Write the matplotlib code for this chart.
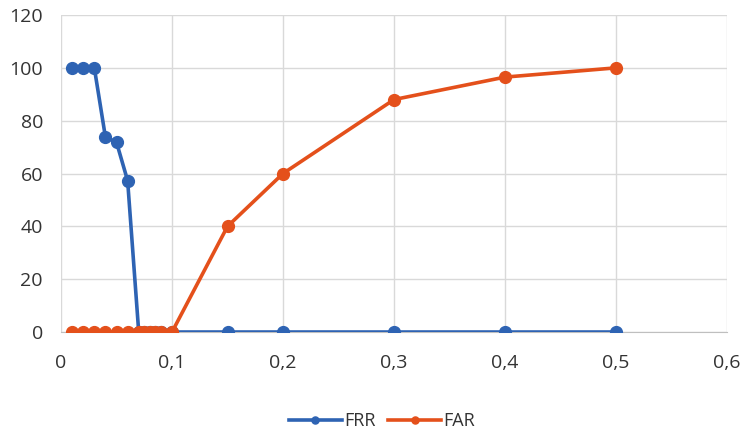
import matplotlib.pyplot as plt
from matplotlib.ticker import FuncFormatter

# threshold values and rates (%)
thresholds = [0.01, 0.02, 0.03, 0.04, 0.05, 0.06, 0.07, 0.075, 0.08, 0.085,
              0.09, 0.1, 0.15, 0.2, 0.3, 0.4, 0.5]
frr = [100, 100, 100, 73.8, 71.8, 57.3, 0, 0, 0, 0, 0, 0, 0, 0, 0, 0, 0]
far = [0, 0, 0, 0, 0, 0, 0, 0, 0, 0, 0, 0, 40, 60, 88, 96.5, 100]

x_ticks = [0, 0.1, 0.2, 0.3, 0.4, 0.5, 0.6]
y_ticks = [0, 20, 40, 60, 80, 100, 120]

blue = "#2E63B3"
orange = "#E4501B"

plt.rcParams["font.family"] = ["Open Sans", "DejaVu Sans"]

fig = plt.figure(figsize=(7.45, 4.34), dpi=100)
ax = fig.add_axes([0.0819, 0.2350, 0.8940, 0.7304])

ax.plot(thresholds, frr, color=blue, lw=2.6, marker="o", ms=8.5, label="FRR", zorder=3)
ax.plot(thresholds, far, color=orange, lw=2.6, marker="o", ms=8.5, label="FAR", zorder=4)

ax.set_xlim(0, 0.6)
ax.set_ylim(0, 120)
ax.set_xticks(x_ticks)
ax.set_yticks(y_ticks)
ax.xaxis.set_major_formatter(FuncFormatter(lambda v, p: f"{v:g}".replace(".", ",")))
ax.grid(True, color="#D9D9D9", lw=1)
ax.set_axisbelow(True)
for s in ["top", "right", "left"]:
    ax.spines[s].set_visible(False)
ax.spines["bottom"].set_color("#BFBFBF")
ax.tick_params(length=0, labelsize=14, colors="#333333")
ax.tick_params(axis="x", pad=16)
ax.tick_params(axis="y", pad=13)

for lbl in ax.get_xticklabels():
    lbl.set_clip_on(False)

leg = fig.legend(loc="center", bbox_to_anchor=(0.513, 0.03), ncol=2, frameon=False,
                 fontsize=13, markerscale=0.6, handlelength=2.9, columnspacing=0.7,
                 handletextpad=0.15)
for t in leg.get_texts():
    t.set_color("#333333")

fig.savefig("out.png", dpi=100)
